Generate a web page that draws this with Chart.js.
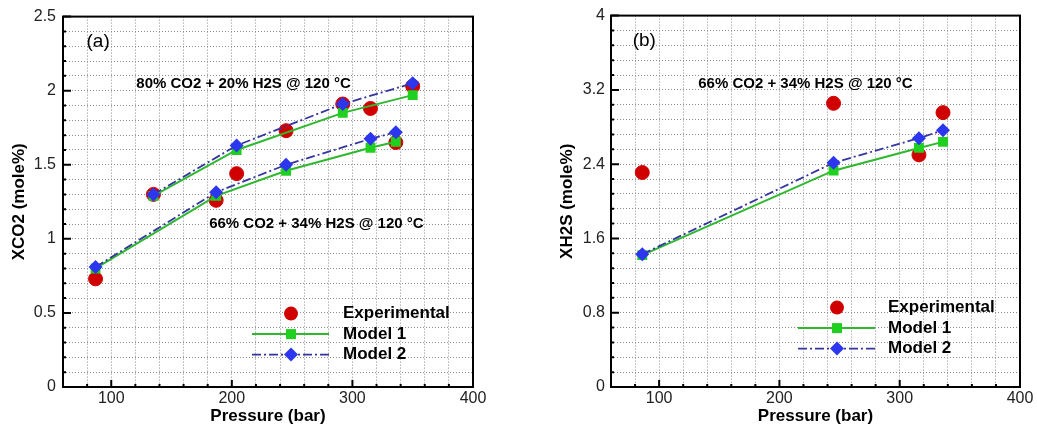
<!DOCTYPE html>
<html>
<head>
<meta charset="utf-8">
<script src="https://cdn.jsdelivr.net/npm/chart.js@4.4.1/dist/chart.umd.min.js"></script>
<style>
  html, body { margin: 0; padding: 0; background: #fff; }
  #wrap { position: relative; width: 1037px; height: 431px; }
  #chartA { position: absolute; left: 0; top: 0; }
  #chartB { position: absolute; left: 520px; top: 0; }
</style>
</head>
<body>
<div id="wrap">
  <canvas id="chartA" width="500" height="431"></canvas>
  <canvas id="chartB" width="517" height="431"></canvas>
</div>
<script>
// panel (a): 80% CO2 + 20% H2S
const expP80 = [135, 245, 292, 315, 350];
const expX80 = [1.30, 1.73, 1.91, 1.88, 2.03];
const modP80 = [135, 204, 292, 350];
const m1X80 = [1.29, 1.60, 1.85, 1.97];
const m2X80 = [1.30, 1.63, 1.91, 2.05];

// panel (a): 66% CO2 + 34% H2S
const expP66 = [87, 187, 204, 336];
const expX66 = [0.73, 1.26, 1.44, 1.65];
const modP66 = [87, 187, 245, 315, 336];
const m1X66 = [0.80, 1.29, 1.46, 1.615, 1.655];
const m2X66 = [0.81, 1.315, 1.50, 1.675, 1.72];

// panel (b): H2S solubility, 66% CO2 + 34% H2S
const pB = [86, 245, 316, 336];
const expH2S = [2.31, 3.055, 2.50, 2.955];
const m1H2S = [1.42, 2.33, 2.575, 2.64];
const m2H2S = [1.43, 2.415, 2.68, 2.765];

// tick labels
const xTicks = [100, 200, 300, 400];
const yTicksA = [0, 0.5, 1, 1.5, 2, 2.5];
const yTicksB = [0, 0.8, 1.6, 2.4, 3.2, 4];

const RED = "#d10000";
const GREEN = "#2fb82f";
const GREEN_PT = "#1fd01f";
const BLUE = "#2b36ee";
const BLUE_LINE = "#3535a0";
const DASHDOT = [9, 3, 2, 3];
const FONT = "'Liberation Sans', Arial, sans-serif";

function pts(xs, ys) {
  return xs.map((x, i) => ({ x: x, y: ys[i] }));
}

function expSet(xs, ys) {
  return {
    label: "Experimental", data: pts(xs, ys), showLine: false, order: 3,
    pointStyle: "circle", pointRadius: 7, pointBackgroundColor: RED, pointBorderColor: RED, pointBorderWidth: 1
  };
}
function model1Set(xs, ys) {
  return {
    label: "Model 1", data: pts(xs, ys), showLine: true, order: 2,
    borderColor: GREEN, borderWidth: 2, pointStyle: "rect", pointRadius: 7,
    pointBackgroundColor: GREEN_PT, pointBorderColor: GREEN_PT, pointBorderWidth: 0
  };
}
function model2Set(xs, ys) {
  return {
    label: "Model 2", data: pts(xs, ys), showLine: true, order: 1,
    borderColor: BLUE_LINE, borderWidth: 1.8, borderDash: DASHDOT, pointStyle: "rectRot", pointRadius: 7,
    pointBackgroundColor: BLUE, pointBorderColor: BLUE, pointBorderWidth: 0
  };
}

function near(v, list) {
  return list.some(t => Math.abs(t - v) < 1e-6);
}

// frame, inward ticks, annotations and legend
const decorPlugin = {
  id: "decor",
  afterDraw(chart) {
    const o = chart.options.plugins.decor;
    const ctx = chart.ctx;
    const a = chart.chartArea;
    const xs = chart.scales.x, ys = chart.scales.y;
    ctx.save();
    ctx.strokeStyle = "#000";
    ctx.lineWidth = 2;
    ctx.strokeRect(a.left, a.top, a.right - a.left, a.bottom - a.top);

    // major and minor tick marks pointing into the plot
    ctx.beginPath();
    xs.ticks.forEach(t => {
      const px = xs.getPixelForValue(t.value);
      const len = near(t.value, xTicks) ? 7 : 3;
      ctx.moveTo(px, a.bottom); ctx.lineTo(px, a.bottom - len);
    });
    ys.ticks.forEach(t => {
      const py = ys.getPixelForValue(t.value);
      const len = near(t.value, o.yTicks) ? 8 : 3;
      ctx.moveTo(a.left, py); ctx.lineTo(a.left + len, py);
    });
    ctx.stroke();

    ctx.fillStyle = "#000";
    ctx.textBaseline = "middle";
    ctx.textAlign = "left";
    o.notes.forEach(n => {
      ctx.font = n.font;
      ctx.fillText(n.text, xs.getPixelForValue(n.x), ys.getPixelForValue(n.y));
    });

    // legend block
    const lx = a.left + o.legend.dx, ly = a.top + o.legend.dy;
    const rows = [0, 20.5, 41];
    ctx.fillStyle = RED;
    ctx.beginPath(); ctx.arc(lx + 39, ly + rows[0], 7, 0, Math.PI * 2); ctx.fill();

    ctx.strokeStyle = GREEN; ctx.lineWidth = 2;
    ctx.beginPath(); ctx.moveTo(lx, ly + rows[1]); ctx.lineTo(lx + 77, ly + rows[1]); ctx.stroke();
    ctx.fillStyle = GREEN_PT;
    ctx.fillRect(lx + 39 - 5, ly + rows[1] - 5, 10, 10);

    ctx.strokeStyle = BLUE_LINE; ctx.lineWidth = 1.8; ctx.setLineDash(DASHDOT);
    ctx.beginPath(); ctx.moveTo(lx, ly + rows[2]); ctx.lineTo(lx + 77, ly + rows[2]); ctx.stroke();
    ctx.setLineDash([]);
    ctx.fillStyle = BLUE;
    ctx.beginPath();
    ctx.moveTo(lx + 39, ly + rows[2] - 7); ctx.lineTo(lx + 46, ly + rows[2]);
    ctx.lineTo(lx + 39, ly + rows[2] + 7); ctx.lineTo(lx + 32, ly + rows[2]);
    ctx.closePath(); ctx.fill();

    ctx.fillStyle = "#000";
    ctx.font = "bold 17px " + FONT;
    ["Experimental", "Model 1", "Model 2"].forEach((t, i) => {
      ctx.fillText(t, lx + o.legend.textDx, ly + rows[i]);
    });
    ctx.restore();
  }
};

function makePanel(id, cfg) {
  new Chart(document.getElementById(id), {
    type: "scatter",
    data: { datasets: cfg.datasets },
    plugins: [decorPlugin],
    options: {
      responsive: false,
      animation: false,
      devicePixelRatio: 1,
      layout: { padding: { left: 0, right: cfg.padRight, top: 13, bottom: 0 } },
      plugins: {
        legend: { display: false },
        tooltip: { enabled: false },
        decor: { yTicks: cfg.yTicks, notes: cfg.notes, legend: cfg.legend }
      },
      scales: {
        x: {
          type: "linear", min: 60, max: 400,
          afterFit: s => { s.height = 44; },
          ticks: {
            stepSize: 20, autoSkip: false, maxRotation: 0, padding: 2,
            color: "#222", font: { family: FONT, size: 16 },
            callback: v => near(v, xTicks) ? String(v) : ""
          },
          grid: { color: "#8c8c8c", lineWidth: 1, drawTicks: false },
          border: { display: false, dash: [1, 2] },
          title: {
            display: true, text: "Pressure (bar)", color: "#000",
            font: { family: FONT, size: 17, weight: "bold" }, padding: { top: 0, bottom: 4 }
          }
        },
        y: {
          type: "linear", min: 0, max: cfg.yMax,
          afterFit: s => { s.width = cfg.yWidth; },
          ticks: {
            stepSize: cfg.yStep, autoSkip: false, padding: cfg.yPad,
            color: "#222", font: { family: FONT, size: 16 },
            callback: v => near(v, cfg.yTicks) ? String(parseFloat(v.toFixed(2))) : ""
          },
          grid: { color: "#8c8c8c", lineWidth: 1, drawTicks: false },
          border: { display: false, dash: [1, 2] },
          title: {
            display: true, text: cfg.yTitle, color: "#000",
            font: { family: FONT, size: 17, weight: "bold" }, padding: { top: cfg.yTitlePad, bottom: 0 }
          }
        }
      }
    }
  });
}

makePanel("chartA", {
  datasets: [
    expSet(expP80, expX80), expSet(expP66, expX66),
    model1Set(modP80, m1X80), model1Set(modP66, m1X66),
    model2Set(modP80, m2X80), model2Set(modP66, m2X66)
  ],
  padRight: 27, yWidth: 63, yPad: 7, yTitlePad: 9,
  yMax: 2.5, yStep: 0.1, yTicks: yTicksA, yTitle: "XCO2 (mole%)",
  notes: [
    { text: "(a)", x: 79.5, y: 2.33, font: "19px " + FONT },
    { text: "80% CO2 + 20% H2S @ 120 \u00B0C", x: 120.8, y: 2.045, font: "bold 15px " + FONT },
    { text: "66% CO2 + 34% H2S @ 120 \u00B0C", x: 181.2, y: 1.10, font: "bold 15px " + FONT }
  ],
  legend: { dx: 189, dy: 297, textDx: 91 }
});

makePanel("chartB", {
  datasets: [
    expSet(pB, expH2S), model1Set(pB, m1H2S), model2Set(pB, m2H2S)
  ],
  padRight: 17, yWidth: 91, yPad: 6, yTitlePad: 37,
  yMax: 4, yStep: 0.16, yTicks: yTicksB, yTitle: "XH2S (mole%)",
  notes: [
    { text: "(b)", x: 78, y: 3.73, font: "19px " + FONT },
    { text: "66% CO2 + 34% H2S @ 120 \u00B0C", x: 132.5, y: 3.26, font: "bold 15px " + FONT }
  ],
  legend: { dx: 187, dy: 292, textDx: 90 }
});
</script>
</body>
</html>
